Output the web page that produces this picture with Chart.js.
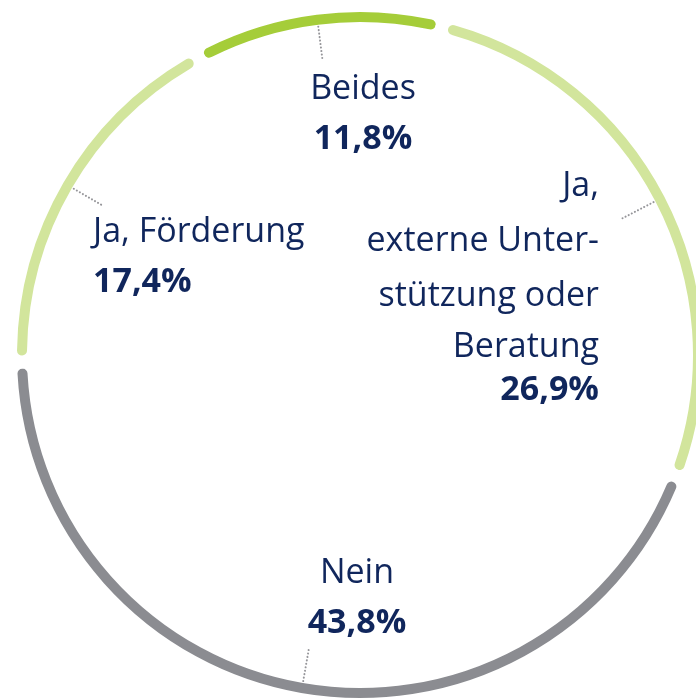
<!DOCTYPE html>
<html>
<head>
<meta charset="utf-8">
<script src="https://cdn.jsdelivr.net/npm/chart.js@4.4.1/dist/chart.umd.min.js"></script>
<style>
  html, body { margin: 0; padding: 0; background: #fff; overflow: hidden; width: 696px; height: 699px; }
  #wrap { position: relative; width: 696px; height: 699px; overflow: hidden; }
  #ring { position: absolute; left: 4px; top: -1px; }
  .lbl { position: absolute; white-space: nowrap; font-family: "Open Sans", sans-serif; font-size: 34px; line-height: 34px; color: #10265c; }
  .lbl.b { font-weight: 700; }
</style>
</head>
<body>
<div id="wrap">
  <canvas id="ring" width="712" height="712"></canvas>
</div>
<script>
// data (clockwise from the top)
var categories = ['Beides', 'Ja, externe Unterstützung oder Beratung', 'Nein', 'Ja, Förderung'];
var shares = [11.8, 26.9, 43.8, 17.4];
var labelLines = [['Beides'], ['Ja,', 'externe Unter-', 'stützung oder', 'Beratung'], ['Nein'], ['Ja, Förderung']];

var colors = ['#a5cd39', '#d2e59c', '#8b8c91', '#d2e59c'];

// where the label blocks sit on the page (x anchor, alignment, baselines)
var labelLayout = [
    { x: 363, align: 'center', lines: [99], value: 149 },
    { x: 599, align: 'right', lines: [196, 251, 306, 357], value: 400 },
    { x: 357, align: 'center', lines: [583], value: 633 },
    { x: 93, align: 'left', lines: [242], value: 292 }
];

var GAP = 13;

// dotted leader from the ring towards each label
var leaderPlugin = {
    id: 'leaders',
    afterDatasetsDraw: function (chart) {
        var ctx = chart.ctx;
        var meta = chart.getDatasetMeta(0);
        ctx.save();
        ctx.strokeStyle = '#96969a';
        ctx.lineWidth = 2;
        ctx.lineCap = 'round';
        ctx.setLineDash([0.1, 3.4]);
        meta.data.forEach(function (arc) {
            var p = arc.getProps(['x', 'y', 'startAngle', 'endAngle', 'innerRadius']);
            var a = (p.startAngle + p.endAngle) / 2;
            var r1 = p.innerRadius + GAP / 2 - 2;
            var r2 = r1 - 35;
            ctx.beginPath();
            ctx.moveTo(p.x + Math.cos(a) * r1, p.y + Math.sin(a) * r1);
            ctx.lineTo(p.x + Math.cos(a) * r2, p.y + Math.sin(a) * r2);
            ctx.stroke();
        });
        ctx.restore();
    }
};

var ctx = document.getElementById('ring').getContext('2d');
var ringChart = new Chart(ctx, {
    type: 'doughnut',
    data: {
        labels: categories,
        datasets: [{
            data: shares,
            backgroundColor: colors,
            borderColor: '#ffffff',
            borderWidth: GAP,
            borderRadius: 11.5,
            hoverOffset: 0
        }]
    },
    options: {
        responsive: false,
        animation: false,
        cutout: 326.5,
        rotation: -28.5,
        layout: { padding: 0 },
        plugins: {
            legend: { display: false },
            tooltip: { enabled: false }
        },
        events: []
    },
    plugins: [leaderPlugin]
});

// labels as html text, baseline placed
var wrap = document.getElementById('wrap');
var ASC = 0.888 * 34;
function addText(txt, x, base, align, bold) {
    var d = document.createElement('div');
    d.className = 'lbl' + (bold ? ' b' : '');
    d.textContent = txt;
    d.style.top = (base - ASC) + 'px';
    if (align === 'left') {
        d.style.left = x + 'px';
    } else if (align === 'right') {
        d.style.right = (696 - x) + 'px';
        d.style.textAlign = 'right';
    } else {
        d.style.left = (x - 200) + 'px';
        d.style.width = '400px';
        d.style.textAlign = 'center';
    }
    wrap.appendChild(d);
}
labelLayout.forEach(function (l, i) {
    labelLines[i].forEach(function (t, j) {
        addText(t, l.x, l.lines[j], l.align, false);
    });
    addText(shares[i].toFixed(1).replace('.', ',') + '%', l.x, l.value, l.align, true);
});
</script>
</body>
</html>
